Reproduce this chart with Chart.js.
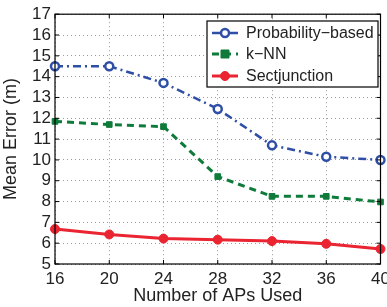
<!DOCTYPE html>
<html>
<head>
<meta charset="utf-8">
<script src="https://cdn.jsdelivr.net/npm/chart.js@4.4.0/dist/chart.umd.min.js"></script>
<style>
  html, body { margin: 0; padding: 0; background: #fff; }
  #wrap { width: 387px; height: 307px; }
</style>
</head>
<body>
<div id="wrap"><canvas id="errChart" width="387" height="307"></canvas></div>
<script>
// 資料
const apCounts = [16, 20, 24, 28, 32, 36, 40];
const probBased = [14.5, 14.5, 13.7, 12.45, 10.7, 10.15, 10.0];
const knn = [11.85, 11.7, 11.6, 9.2, 8.25, 8.25, 7.98];
const sectjunction = [6.68, 6.42, 6.22, 6.17, 6.1, 5.97, 5.72];
const yTicks = [5, 6, 7, 8, 9, 10, 11, 12, 13, 14, 15, 16, 17];

const FONT = 'Liberation Sans, Arial, sans-serif';

// 外框、內側刻度與圖例（MATLAB 風格）
const framePlugin = {
    id: 'frame',
    afterDatasetsDraw(chart) {
        const { ctx, chartArea: a, scales } = chart;
        ctx.save();
        ctx.strokeStyle = '#000';
        ctx.lineWidth = 1.2;
        ctx.strokeRect(a.left, a.top, a.right - a.left, a.bottom - a.top);
        ctx.lineWidth = 1;
        yTicks.forEach(v => {
            const y = scales.y.getPixelForValue(v);
            ctx.beginPath();
            ctx.moveTo(a.left, y); ctx.lineTo(a.left + 4, y);
            ctx.moveTo(a.right, y); ctx.lineTo(a.right - 4, y);
            ctx.stroke();
        });
        apCounts.forEach((v, i) => {
            const x = scales.x.getPixelForValue(i);
            ctx.beginPath();
            ctx.moveTo(x, a.bottom); ctx.lineTo(x, a.bottom - 4);
            ctx.moveTo(x, a.top); ctx.lineTo(x, a.top + 4);
            ctx.stroke();
        });

        // 圖例
        const bx = 207, by = 21, bw = 171, bh = 66;
        ctx.fillStyle = '#fff';
        ctx.fillRect(bx, by, bw, bh);
        ctx.strokeStyle = '#000';
        ctx.lineWidth = 1.2;
        ctx.strokeRect(bx, by, bw, bh);
        const rows = [33, 54, 76];
        chart.data.datasets.forEach((ds, i) => {
            const y = rows[i];
            ctx.strokeStyle = ds.borderColor;
            ctx.lineWidth = ds.borderWidth;
            ctx.setLineDash(ds.borderDash || []);
            ctx.beginPath();
            ctx.moveTo(212, y); ctx.lineTo(238, y);
            ctx.stroke();
            ctx.setLineDash([]);
            ctx.fillStyle = ds.pointBackgroundColor;
            ctx.strokeStyle = ds.borderColor;
            ctx.lineWidth = ds.pointBorderWidth;
            const r = ds.pointRadius;
            ctx.beginPath();
            if (ds.pointStyle === 'rect') {
                ctx.rect(225 - r, y - r, 2 * r, 2 * r);
            } else {
                ctx.arc(225, y, r, 0, Math.PI * 2);
            }
            ctx.fill();
            ctx.stroke();
            ctx.fillStyle = '#222';
            ctx.font = '16px ' + FONT;
            ctx.textBaseline = 'middle';
            ctx.textAlign = 'left';
            ctx.fillText(ds.label, 246, y + 1);
        });
        ctx.restore();
    }
};

function initErrorChart() {
    const ctx = document.getElementById('errChart');
    if (!ctx) return;

    new Chart(ctx, {
        type: 'line',
        data: {
            labels: apCounts,
            datasets: [{
                label: 'Probability\u2212based',
                data: probBased,
                borderColor: '#2f4fa6',
                backgroundColor: '#2f4fa6',
                pointBackgroundColor: '#ffffff',
                borderWidth: 2.5,
                borderDash: [8, 4, 2, 4],
                pointStyle: 'circle',
                pointRadius: 4,
                pointBorderWidth: 2.5
            }, {
                label: 'k\u2212NN',
                data: knn,
                borderColor: '#0f7b3a',
                backgroundColor: '#0f7b3a',
                pointBackgroundColor: '#0f7b3a',
                borderWidth: 3,
                borderDash: [7, 5],
                pointStyle: 'rect',
                pointRadius: 4,
                pointBorderWidth: 1
            }, {
                label: 'Sectjunction',
                data: sectjunction,
                borderColor: '#ea2430',
                backgroundColor: '#ea2430',
                pointBackgroundColor: '#ea2430',
                borderWidth: 3,
                pointStyle: 'circle',
                pointRadius: 4.5,
                pointBorderWidth: 1
            }]
        },
        options: {
            responsive: false,
            animation: false,
            layout: { padding: { top: 13, right: 5, left: 0, bottom: 0 } },
            plugins: {
                legend: { display: false },
                tooltip: { enabled: false }
            },
            scales: {
                x: {
                    offset: false,
                    grid: { color: '#9a9a9a', drawTicks: false, lineWidth: 1 },
                    border: { display: false, dash: [1, 3] },
                    ticks: { color: '#222', font: { family: FONT, size: 17 }, padding: 5, maxRotation: 0, autoSkip: false },
                    title: { display: true, text: 'Number of APs Used', color: '#222', font: { family: FONT, size: 18 }, padding: { top: 0, bottom: 0 } },
                    afterFit(scale) {
                        scale.height = 43;
                        scale.paddingRight = 0;
                        scale.paddingLeft = 0;
                    }
                },
                y: {
                    min: 5,
                    max: 17,
                    grid: { color: '#9a9a9a', drawTicks: false, lineWidth: 1 },
                    border: { display: false, dash: [1, 3] },
                    ticks: { stepSize: 1, color: '#222', font: { family: FONT, size: 17 }, padding: 4, autoSkip: false },
                    title: { display: true, text: 'Mean Error (m)', color: '#222', font: { family: FONT, size: 18 }, padding: { top: 0, bottom: 1 } },
                    afterFit(scale) { scale.width = 55; }
                }
            }
        },
        plugins: [framePlugin]
    });
}

initErrorChart();
</script>
</body>
</html>
